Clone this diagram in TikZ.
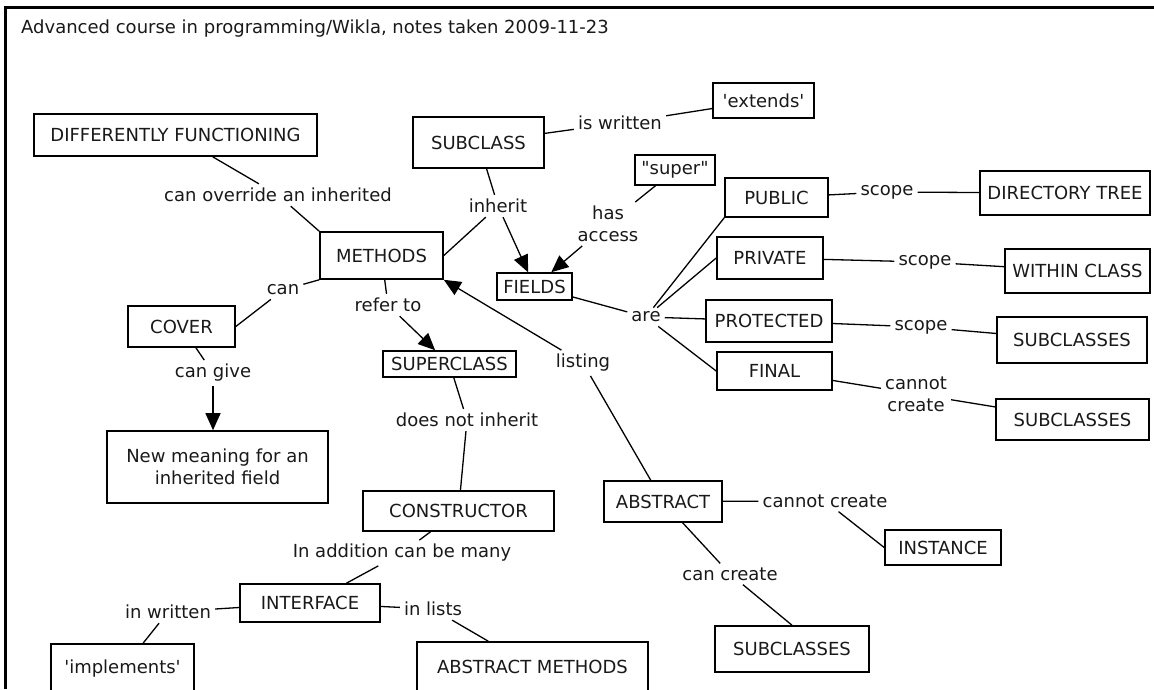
\documentclass[tikz,border=0pt]{standalone}
\usepackage{fontspec}
\setmainfont{DejaVu Sans}
\usetikzlibrary{arrows.meta}

\begin{document}
\begin{tikzpicture}[x=1pt,y=-1pt,
  every node/.style={font=\fontsize{18}{21.6}\selectfont, text=black!90},
  concept/.style={draw, line width=1.6pt, inner sep=0pt, align=center},%les boites
  lien/.style={inner sep=4pt, align=center},%les mots de liaison
  trait/.style={line width=1.3pt},
  fleche/.style={line width=1.3pt, -{Triangle[length=17pt,width=15pt]}}]
\useasboundingbox (0,0) rectangle (1154,689);
\draw[line width=3pt] (5.5,689) -- (5.5,7.5) -- (1154,7.5);
\node[anchor=west, inner sep=0pt] (titre) at (21,29) {Advanced course in programming/Wikla, notes taken 2009-11-23};

% boites
\node[concept, minimum width=283pt, minimum height=42pt] (diff) at (175.5,135) {DIFFERENTLY FUNCTIONING};
\node[concept, minimum width=131pt, minimum height=51pt] (subcl) at (478.5,142.5) {SUBCLASS};
\node[concept, minimum width=101pt, minimum height=35pt] (ext) at (763.5,100.5) {\textquotesingle extends\textquotesingle};
\node[concept, minimum width=80pt, minimum height=30pt] (sup) at (675,170) {\textquotedbl super\textquotedbl};
\node[concept, minimum width=103pt, minimum height=39pt] (pub) at (776.5,197.5) {PUBLIC};
\node[concept, minimum width=170pt, minimum height=44pt] (dir) at (1065,193) {DIRECTORY TREE};
\node[concept, minimum width=123pt, minimum height=47pt] (meth) at (381.5,255.5) {METHODS};
\node[concept, minimum width=75pt, minimum height=27pt] (fld) at (534.5,286.5) {FIELDS};
\node[concept, minimum width=106pt, minimum height=42pt] (priv) at (770,258) {PRIVATE};
\node[concept, minimum width=145pt, minimum height=44pt] (within) at (1077.5,271) {WITHIN CLASS};
\node[concept, minimum width=126pt, minimum height=42pt] (prot) at (769,321) {PROTECTED};
\node[concept, minimum width=150pt, minimum height=46pt] (subA) at (1072,340) {SUBCLASSES};
\node[concept, minimum width=115pt, minimum height=38pt] (final) at (774.5,371) {FINAL};
\node[concept, minimum width=153pt, minimum height=41pt] (subB) at (1072.5,419.5) {SUBCLASSES};
\node[concept, minimum width=107pt, minimum height=41pt] (cover) at (181.5,326.5) {COVER};
\node[concept, minimum width=133pt, minimum height=26pt] (super) at (449.5,364) {SUPERCLASS};
\node[concept, minimum width=221pt, minimum height=72pt] (newm) at (217.5,467) {New meaning for an\\inherited field};
\node[concept, minimum width=191pt, minimum height=40pt] (cons) at (458.5,511) {CONSTRUCTOR};
\node[concept, minimum width=118pt, minimum height=41pt] (abs) at (663,501.5) {ABSTRACT};
\node[concept, minimum width=116pt, minimum height=35pt] (inst) at (943,547.5) {INSTANCE};
\node[concept, minimum width=140pt, minimum height=38pt] (intf) at (310,603) {INTERFACE};
\node[concept, minimum width=143pt, minimum height=50pt] (impl) at (122.5,669) {\textquotesingle implements\textquotesingle};
\node[concept, minimum width=231pt, minimum height=50pt] (absm) at (532.5,667) {ABSTRACT METHODS};
\node[concept, minimum width=154pt, minimum height=46pt] (subC) at (792,649) {SUBCLASSES};

% mots de liaison
\node[lien] (ovr) at (278,195) {can override an inherited};
\node[lien] (inh) at (498,206) {inherit};
\node[lien] (iswr) at (620,123) {is written};
\node[lien] (hasacc) at (608,224) {has\\access};
\node[lien] (scA) at (887,192) {scope};
\node[lien] (scB) at (925,262) {scope};
\node[lien] (scC) at (921,327) {scope};
\node[lien] (are) at (646,317) {are};
\node[lien] (can) at (283,290) {can};
\node[lien] (refto) at (388,305) {refer to};
\node[lien] (lst) at (583,363) {listing};
\node[lien] (cncB) at (916,394) {cannot\\create};
\node[lien] (cgive) at (213,373) {can give};
\node[lien] (dni) at (467,420) {does not inherit};
\node[lien] (cncA) at (825,501) {cannot create};
\node[lien] (inadd) at (402,553) {In addition can be many};
\node[lien] (ccr) at (730,574) {can create};
\node[lien] (inwr) at (168,612) {in written};
\node[lien] (inl) at (433,609) {in lists};

% liens
\draw[trait] (diff) -- (ovr);
\draw[trait] (ovr) -- (meth.north west);
\draw[trait] (subcl) -- (inh);
\draw[trait] (inh) -- (meth.east);
\draw[fleche] (inh) -- (fld);
\draw[trait] (subcl) -- (iswr);
\draw[trait] (iswr) -- (ext);
\draw[trait] (sup) -- (hasacc);
\draw[fleche] (hasacc) -- (fld);
\draw[trait] (pub) -- (scA);
\draw[trait] (scA) -- (dir);
\draw[trait] (priv) -- (scB);
\draw[trait] (scB) -- (within);
\draw[trait] (prot) -- (scC);
\draw[trait] (scC) -- (subA);
\draw[trait] (final) -- (cncB);
\draw[trait] (cncB) -- (subB);
\draw[trait] (fld) -- (are);
\draw[trait] (are) -- (pub.south west);
\draw[trait] (are) -- (priv.west);
\draw[trait] (are) -- (prot);
\draw[trait] (are) -- (final.west);
\draw[trait] (meth.south west) -- (can);
\draw[trait] (can) -- (cover.east);
\draw[trait] (cover) -- (cgive);
\draw[fleche] (cgive) -- (cgive |- newm.north);
\draw[trait] (meth) -- (refto);
\draw[fleche] (refto) -- (super);
\draw[trait] (abs) -- (lst);
\draw[fleche] (lst) -- (meth.south east);
\draw[trait] (super) -- (dni);
\draw[trait] (dni) -- (cons);
\draw[trait] (cons) -- (inadd);
\draw[trait] (inadd) -- (intf);
\draw[trait] (intf) -- (inwr);
\draw[trait] (inwr) -- (impl);
\draw[trait] (intf) -- (inl);
\draw[trait] (inl) -- (absm);
\draw[trait] (abs) -- (cncA);
\draw[trait] (cncA) -- (inst.west);
\draw[trait] (abs) -- (ccr);
\draw[trait] (ccr) -- (subC.north);

\end{tikzpicture}
\end{document}
